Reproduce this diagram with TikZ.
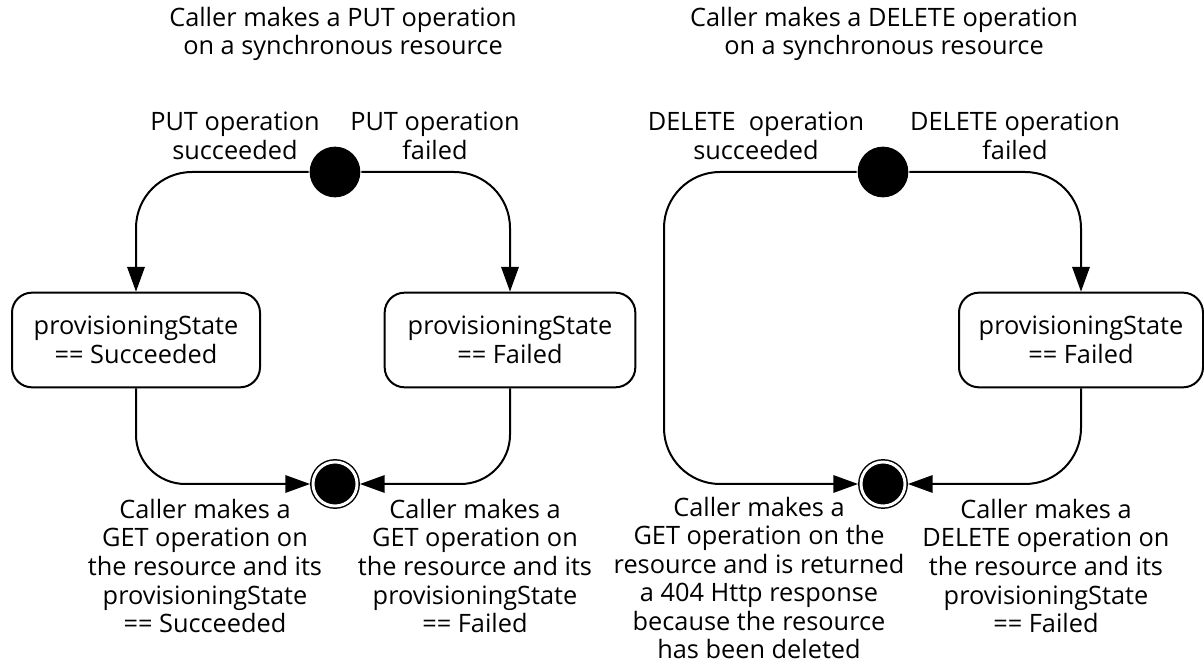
\documentclass[tikz,border=0pt]{standalone}
\usepackage{fontspec}
\setmainfont{Open Sans}
\usetikzlibrary{arrows.meta}

\tikzset{every picture/.style={line width=1.5pt}}
\tikzset{
  txt/.style={inner sep=0.75pt, align=center, font=\fontsize{19}{21.4}\selectfont},
  statebox/.style={txt, draw, rounded corners=15pt, minimum height=71pt},
  initdot/.style={circle, fill=black, inner sep=0pt, minimum size=38pt},
  finaldot/.style={circle, fill=black, draw, double, double distance=2.2pt, line width=1.1pt, inner sep=0pt, minimum size=33pt, outer sep=2.2pt},
  flow/.style={-{Triangle[length=18.5pt,width=13pt]}},
}

\begin{document}
\begin{tikzpicture}[x=0.75pt,y=0.75pt,yscale=-1,xscale=1]
\useasboundingbox (0,0) rectangle (1204,666);

%%% PUT diagram
% Text Node
\draw (343,34) node [txt] (puttitle) {Caller makes a PUT operation\\on a synchronous resource};
% Text Node
\draw (235,136) node [txt] (putoklbl) {PUT operation\\succeeded};
% Text Node
\draw (435,136) node [txt] (putbadlbl) {PUT operation\\failed};

%Shape: Circle
\draw (335,172) node [initdot] (putstart) {};
%Rounded Rect
\draw (136,340) node [statebox, minimum width=186pt] (putokbox) {provisioningState\\== Succeeded};
%Rounded Rect
\draw (510,340) node [statebox, minimum width=188pt] (putbadbox) {provisioningState\\== Failed};
%Shape: Circle
\draw (335,484) node [finaldot] (putend) {};

%Curve Lines
\draw [flow, rounded corners=42pt] (putstart.west) -| (putokbox.north) ;
\draw [flow, rounded corners=42pt] (putstart.east) -| (putbadbox.north) ;
\draw [flow, rounded corners=37pt] (putokbox.south) |- (putend.west) ;
\draw [flow, rounded corners=37pt] (putbadbox.south) |- (putend.east) ;

% Text Node
\draw (205,566) node [txt] (putoktxt) {Caller makes a\\GET operation on\\the resource and its\\provisioningState\\== Succeeded};
% Text Node
\draw (475,566) node [txt] (putbadtxt) {Caller makes a\\GET operation on\\the resource and its\\provisioningState\\== Failed};

%%% DELETE diagram
% Text Node
\draw (884,34) node [txt] (deltitle) {Caller makes a DELETE operation\\on a synchronous resource};
% Text Node
\draw (756,136) node [txt] (deloklbl) {DELETE\ \ operation\\succeeded};
% Text Node
\draw (1015,136) node [txt] (delbadlbl) {DELETE operation\\failed};

%Shape: Circle
\draw (883,172) node [initdot] (delstart) {};
%Rounded Rect
\draw (1081,340) node [statebox, minimum width=183pt] (delbadbox) {provisioningState\\== Failed};
%Shape: Circle
\draw (883,484) node [finaldot] (delend) {};
\coordinate (gonebend) at (664,484);

%Curve Lines
\draw [flow, rounded corners=42pt] (delstart.west) -| (gonebend) -- (delend.west) ;
\draw [flow, rounded corners=42pt] (delstart.east) -| (delbadbox.north) ;
\draw [flow, rounded corners=42pt] (delbadbox.south) |- (delend.east) ;

% Text Node
\draw (759,578) node [txt] (deloktxt) {Caller makes a\\GET operation on the\\resource and is returned\\a 404 Http response\\because the resource\\has been deleted};
% Text Node
\draw (1046,566) node [txt] (delbadtxt) {Caller makes a\\DELETE operation on\\the resource and its\\provisioningState\\== Failed};

\end{tikzpicture}
\end{document}
